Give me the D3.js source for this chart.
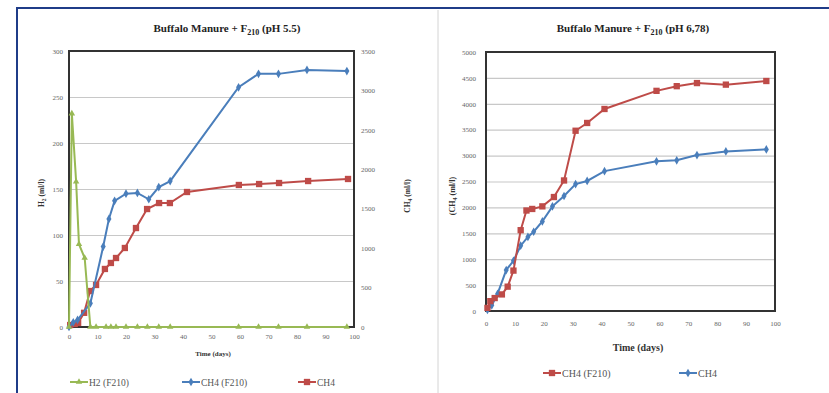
<!DOCTYPE html>
<html>
<head>
<meta charset="utf-8">
<script src="https://cdn.jsdelivr.net/npm/d3@7"></script>
<style>
  body { margin: 0; background: #fff; }
  svg { display: block; font-family: "Liberation Serif", "DejaVu Serif", serif; }
  .tick text { fill: #666; }
</style>
</head>
<body>
<div id="chart"></div>
<script>
// left panel: pH 5.5
var h2Days = [0, 1, 2.5, 3.5, 5.5, 7.5, 9.5, 13, 14.7, 16.5, 20, 24, 27.5, 31.5, 35.5, 59.5, 66.5, 73.5, 83.5, 97.5];
var h2Vals = [0, 232, 158, 90, 75, 0, 0, 0, 0, 0, 0, 0, 0, 0, 0, 0, 0, 0, 0, 0];

var ch4F210Days = [0, 1.5, 3, 7.5, 12, 14, 16, 20, 24, 28, 31.5, 35.5, 59.5, 66.5, 73.5, 83.5, 97.5];
var ch4F210Vals = [0, 60, 90, 300, 1020, 1370, 1600, 1690, 1700, 1620, 1775, 1850, 3040, 3210, 3210, 3260, 3245];

var ch4Days = [0.4, 2, 3.2, 5.3, 7.4, 9.5, 12.6, 14.7, 16.5, 19.6, 23.5, 27.4, 31.6, 35.4, 41.4, 59.6, 66.7, 73.7, 83.9, 97.9];
var ch4Vals = [25, 38, 51, 180, 456, 533, 736, 812, 875, 1002, 1255, 1496, 1572, 1572, 1712, 1801, 1813, 1826, 1851, 1877];

// right panel: pH 6,78
var rRedDays = [0.5, 1.5, 3, 5.5, 7.5, 9.5, 12, 14, 16, 19.5, 23.5, 27, 31, 35, 41, 59, 66, 73, 83, 97];
var rRedVals = [60, 190, 250, 320, 470, 780, 1560, 1940, 1970, 2020, 2200, 2520, 3480, 3630, 3900, 4250, 4340, 4400, 4370, 4440];

var rBlueDays = [0.5, 2, 4, 7, 9.5, 12, 14.5, 16.5, 19.5, 23, 27, 31, 35, 41, 59, 66, 73, 83, 97];
var rBlueVals = [20, 110, 330, 790, 970, 1260, 1430, 1530, 1730, 2020, 2220, 2450, 2510, 2700, 2890, 2910, 3010, 3080, 3120];

var xTicks = [0, 10, 20, 30, 40, 50, 60, 70, 80, 90, 100];
var h2Ticks = [0, 50, 100, 150, 200, 250, 300];
var ch4LeftTicks = [0, 500, 1000, 1500, 2000, 2500, 3000, 3500];
var ch4RightTicks = [0, 500, 1000, 1500, 2000, 2500, 3000, 3500, 4000, 4500, 5000];

var GREEN = "#98b954", BLUE = "#4a7ebb", RED = "#be4b48";
var fmt = d3.format("d");

var svg = d3.select("#chart").append("svg")
    .attr("width", 829)
    .attr("height", 393);

svg.append("rect").attr("width", 829).attr("height", 393).attr("fill", "#fff");

// outer frames
svg.append("path")
    .attr("d", "M17,393V8H829")
    .attr("fill", "none")
    .attr("stroke", "#1f3c88")
    .attr("stroke-width", 2);
svg.append("line")
    .attr("x1", 438).attr("x2", 438).attr("y1", 10).attr("y2", 393)
    .attr("stroke", "#d4d4d4");

function zip(a, b) { return a.map(function(d, i) { return {x: d, y: b[i]}; }); }

function addSeries(g, data, x, y, color, shape, size) {
  var line = d3.line()
      .x(function(d) { return x(d.x); })
      .y(function(d) { return y(d.y); });
  g.append("path")
      .datum(data)
      .attr("fill", "none")
      .attr("stroke", color)
      .attr("stroke-width", 2)
      .attr("d", line);
  g.selectAll(null)
      .data(data)
    .enter().append("path")
      .attr("transform", function(d) { return "translate(" + x(d.x) + "," + y(d.y) + ")"; })
      .attr("d", d3.symbol().type(shape).size(size))
      .attr("fill", color);
}

function legendItem(g, x0, y0, color, shape, size, label, fs) {
  g.append("line")
      .attr("x1", x0).attr("x2", x0 + 18).attr("y1", y0).attr("y2", y0)
      .attr("stroke", color).attr("stroke-width", 2);
  g.append("path")
      .attr("transform", "translate(" + (x0 + 9) + "," + y0 + ")")
      .attr("d", d3.symbol().type(shape).size(size))
      .attr("fill", color);
  g.append("text")
      .attr("x", x0 + 19).attr("y", y0 + 3.5)
      .attr("font-size", fs).attr("fill", "#555")
      .text(label);
}

function title(cx, cy, tail) {
  var t = svg.append("text")
      .attr("x", cx).attr("y", cy)
      .attr("text-anchor", "middle")
      .attr("font-size", 11).attr("font-weight", "bold").attr("fill", "#222");
  t.append("tspan").text("Buffalo Manure + F");
  t.append("tspan").attr("font-size", 8).attr("dy", 3).text("210");
  t.append("tspan").attr("dy", -3).text(" " + tail);
}

// ---------- left panel ----------
var L = {left: 69, top: 51, right: 354, bottom: 327};

var x1 = d3.scaleLinear().domain([0, 100]).range([L.left, L.right]);
var yH2 = d3.scaleLinear().domain([0, 300]).range([L.bottom, L.top]);
var yCh4 = d3.scaleLinear().domain([0, 3500]).range([L.bottom, L.top]);

var gl = svg.append("g");

gl.append("g")
    .attr("transform", "translate(" + L.left + ",0)")
    .call(d3.axisLeft(yH2).tickValues(h2Ticks).tickSize(-(L.right - L.left)).tickFormat(""))
    .call(function(g) { g.select(".domain").remove(); })
    .selectAll("line").attr("stroke", "#c8c8c8").attr("stroke-width", 1.2);

gl.append("g")
    .attr("transform", "translate(" + (L.left - 3) + ",0)")
    .call(d3.axisLeft(yH2).tickValues(h2Ticks).tickSize(0).tickFormat(fmt))
    .call(function(g) { g.select(".domain").remove(); })
    .selectAll("text").attr("font-size", 7).attr("font-family", "Liberation Serif");

gl.append("g")
    .attr("transform", "translate(" + (L.right + 4) + ",0)")
    .call(d3.axisRight(yCh4).tickValues(ch4LeftTicks).tickSize(0).tickFormat(fmt))
    .call(function(g) { g.select(".domain").remove(); })
    .selectAll("text").attr("font-size", 7).attr("font-family", "Liberation Serif");

gl.append("g")
    .attr("transform", "translate(0," + (L.bottom + 4) + ")")
    .call(d3.axisBottom(x1).tickValues(xTicks).tickSize(0).tickFormat(fmt))
    .call(function(g) { g.select(".domain").remove(); })
    .selectAll("text").attr("font-size", 7).attr("font-family", "Liberation Serif");

gl.append("rect")
    .attr("x", L.left).attr("y", L.top)
    .attr("width", L.right - L.left).attr("height", L.bottom - L.top)
    .attr("fill", "none").attr("stroke", "#333").attr("stroke-width", 2);

addSeries(gl, zip(ch4Days, ch4Vals), x1, yCh4, RED, d3.symbolSquare, 40);
addSeries(gl, zip(ch4F210Days, ch4F210Vals), x1, yCh4, BLUE, d3.symbolDiamond, 22);
addSeries(gl, zip(h2Days, h2Vals), x1, yH2, GREEN, d3.symbolTriangle, 18);

title(227, 32, "(pH 5.5)");

var h2Label = gl.append("text")
    .attr("transform", "translate(44,193) rotate(-90)")
    .attr("text-anchor", "middle")
    .attr("font-size", 7.5).attr("font-weight", "bold").attr("fill", "#333");
h2Label.append("tspan").text("H");
h2Label.append("tspan").attr("font-size", 5.5).attr("dy", 2).text("2");
h2Label.append("tspan").attr("dy", -2).text(" (ml/l)");

var ch4Label = gl.append("text")
    .attr("transform", "translate(410,196) rotate(-90)")
    .attr("text-anchor", "middle")
    .attr("font-size", 7.5).attr("font-weight", "bold").attr("fill", "#333");
ch4Label.append("tspan").text("CH");
ch4Label.append("tspan").attr("font-size", 5.5).attr("dy", 2).text("4");
ch4Label.append("tspan").attr("dy", -2).text(" (ml/l)");

gl.append("text")
    .attr("x", 213).attr("y", 356)
    .attr("text-anchor", "middle")
    .attr("font-size", 7).attr("font-weight", "bold").attr("fill", "#333")
    .text("Time (days)");

legendItem(gl, 70, 382, GREEN, d3.symbolTriangle, 18, "H2 (F210)", 9.5);
legendItem(gl, 182, 382, BLUE, d3.symbolDiamond, 22, "CH4 (F210)", 9.5);
legendItem(gl, 298, 382, RED, d3.symbolSquare, 40, "CH4", 9.5);

// ---------- right panel ----------
var R = {left: 486, top: 52, right: 775, bottom: 311};

var x2 = d3.scaleLinear().domain([0, 100]).range([R.left, R.right]);
var y2 = d3.scaleLinear().domain([0, 5000]).range([R.bottom, R.top]);

var gr = svg.append("g");

gr.append("g")
    .attr("transform", "translate(" + R.left + ",0)")
    .call(d3.axisLeft(y2).tickValues(ch4RightTicks).tickSize(-(R.right - R.left)).tickFormat(""))
    .call(function(g) { g.select(".domain").remove(); })
    .selectAll("line").attr("stroke", "#c8c8c8").attr("stroke-width", 1.2);

gr.append("g")
    .attr("transform", "translate(" + (R.left - 7) + ",0)")
    .call(d3.axisLeft(y2).tickValues(ch4RightTicks).tickSize(0).tickFormat(fmt))
    .call(function(g) { g.select(".domain").remove(); })
    .selectAll("text").attr("font-size", 7).attr("font-family", "Liberation Serif");

gr.append("g")
    .attr("transform", "translate(0," + (R.bottom + 7) + ")")
    .call(d3.axisBottom(x2).tickValues(xTicks).tickSize(0).tickFormat(fmt))
    .call(function(g) { g.select(".domain").remove(); })
    .selectAll("text").attr("font-size", 7).attr("font-family", "Liberation Serif");

gr.append("rect")
    .attr("x", R.left).attr("y", R.top)
    .attr("width", R.right - R.left).attr("height", R.bottom - R.top)
    .attr("fill", "none").attr("stroke", "#333").attr("stroke-width", 2);

addSeries(gr, zip(rBlueDays, rBlueVals), x2, y2, BLUE, d3.symbolDiamond, 22);
addSeries(gr, zip(rRedDays, rRedVals), x2, y2, RED, d3.symbolSquare, 40);

title(633, 32, "(pH 6,78)");

var rLabel = gr.append("text")
    .attr("transform", "translate(455,196) rotate(-90)")
    .attr("text-anchor", "middle")
    .attr("font-size", 8).attr("font-weight", "bold").attr("fill", "#333");
rLabel.append("tspan").text("(CH");
rLabel.append("tspan").attr("font-size", 6).attr("dy", 2).text("4");
rLabel.append("tspan").attr("dy", -2).text(" (ml/l)");

gr.append("text")
    .attr("x", 638).attr("y", 351)
    .attr("text-anchor", "middle")
    .attr("font-size", 10).attr("font-weight", "bold").attr("fill", "#333")
    .text("Time (days)");

legendItem(gr, 543, 373, RED, d3.symbolSquare, 40, "CH4 (F210)", 10);
legendItem(gr, 679, 373, BLUE, d3.symbolDiamond, 22, "CH4", 10);
</script>
</body>
</html>
